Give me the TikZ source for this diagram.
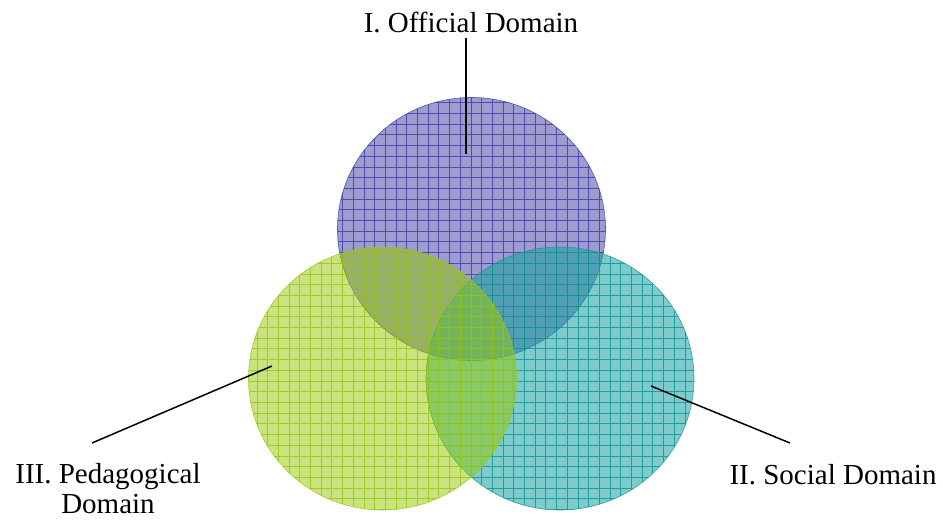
\documentclass[tikz,border=0pt]{standalone}
\usepackage{fontspec}
\setmainfont{Liberation Serif}
\definecolor{pfill}{RGB}{76,73,169}
\definecolor{pline}{RGB}{66,64,164}
\definecolor{gfill}{RGB}{150,200,0}
\definecolor{gline}{RGB}{150,200,20}
\definecolor{tfill}{RGB}{20,160,160}
\definecolor{tline}{RGB}{20,150,150}
\tikzset{
  lbl/.style={font=\fontsize{29}{33}\selectfont, inner sep=0pt, align=center},
  conn/.style={draw=black, line width=1.5pt},
}
\newcommand{\gridcircle}[5]{%
  \begin{scope}
    \clip (#1) ellipse [x radius=134pt, y radius=131.5pt];
    \fill[#3, fill opacity=#5] (#1) ellipse [x radius=134pt, y radius=131.5pt];
    \draw[#4, draw opacity=0.85, line width=0.6pt, step=10.7pt] ([shift={(-140pt,-140pt)}]#1) grid ([shift={(140pt,140pt)}]#1);
  \end{scope}
  \draw[#4, draw opacity=0.85, line width=0.6pt] (#1) ellipse [x radius=134pt, y radius=131.5pt];
}
\begin{document}
\begin{tikzpicture}[x=1pt,y=1pt]
\useasboundingbox (0,0) rectangle (943,520);
\coordinate (cp) at (471.5,291);
\coordinate (cg) at (382.5,141.5);
\coordinate (ct) at (560,141.5);
\gridcircle{cp}{}{pfill}{pline}{0.55}
\gridcircle{ct}{}{tfill}{tline}{0.55}
\gridcircle{cg}{}{gfill}{gline}{0.5}
\node[lbl] (t1) at (471,498) {I. Official Domain};
\node[lbl] (t3) at (108,31) {III. Pedagogical\\[-3pt]Domain};
\node[lbl] (t2) at (833,45) {II. Social Domain};
\coordinate (a1) at (466,482);
\coordinate (p1) at (466,366);
\coordinate (a3) at (92,77);
\coordinate (p3) at (272,154);
\coordinate (a2) at (790,77);
\coordinate (p2) at (651,134);
\draw[conn] (a1) -- (p1);
\draw[conn] (a3) -- (p3);
\draw[conn] (a2) -- (p2);
\end{tikzpicture}
\end{document}
